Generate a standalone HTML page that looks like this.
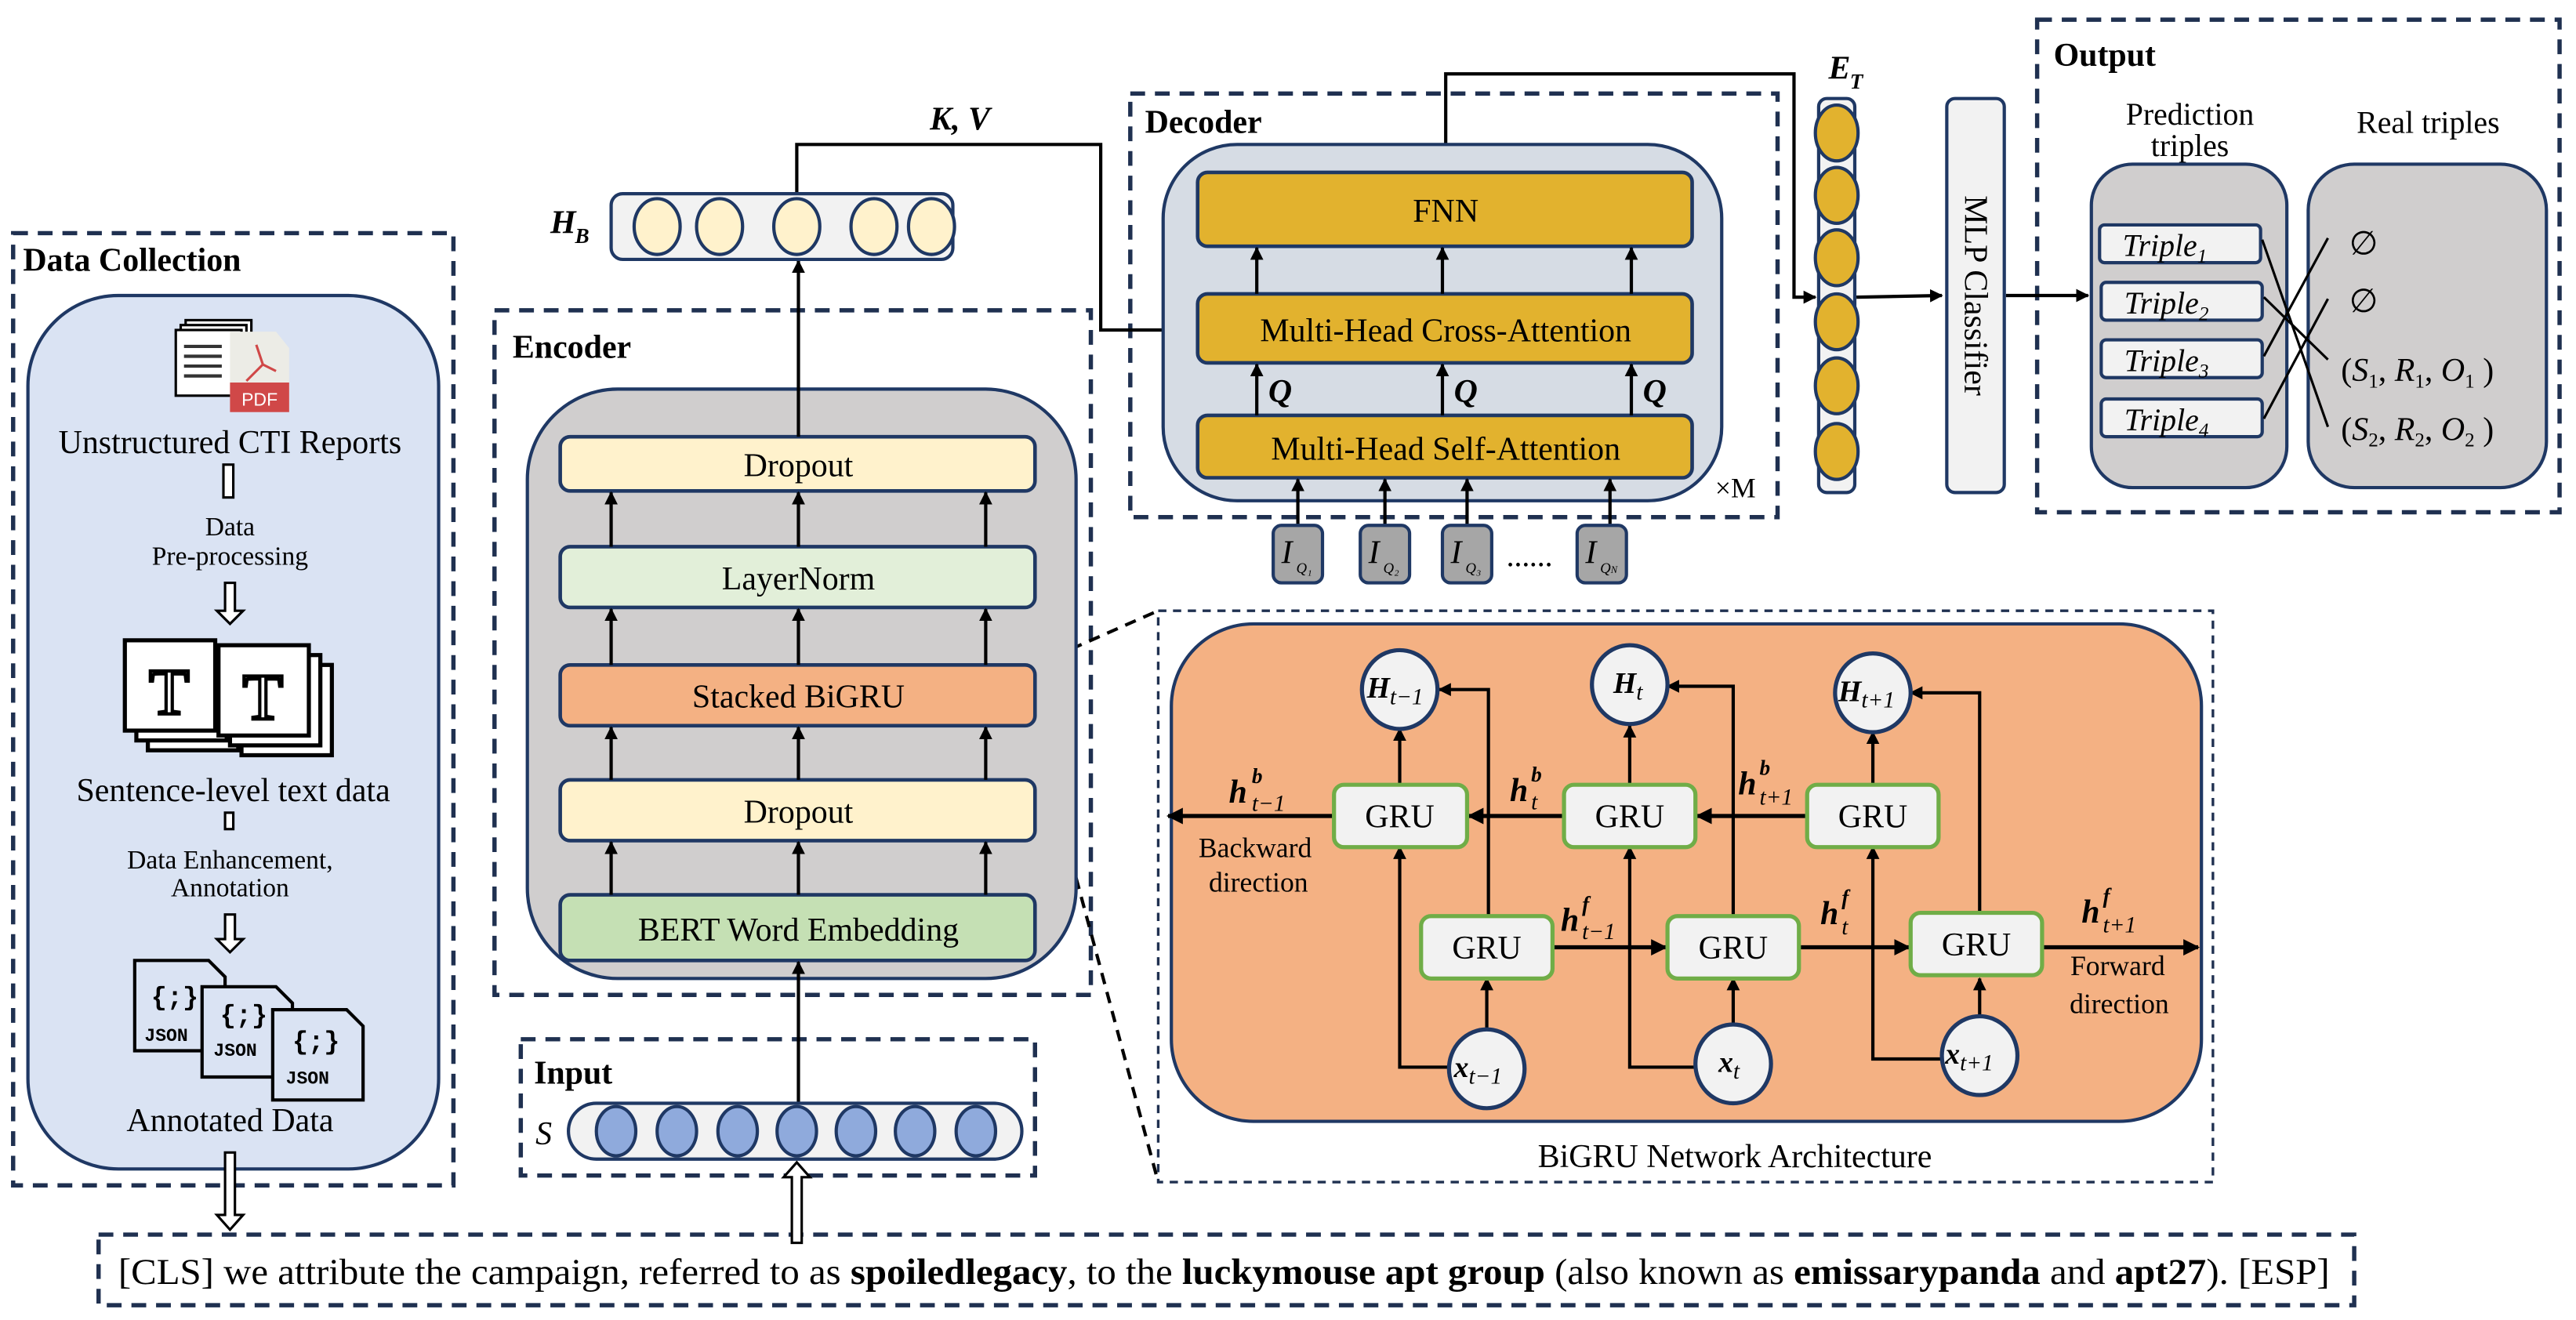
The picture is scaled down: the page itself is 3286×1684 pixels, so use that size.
<!DOCTYPE html>
<html><head><meta charset="utf-8"><style>
html,body{margin:0;padding:0;background:#fff;}
svg{display:block;}
text{font-family:"Liberation Serif","DejaVu Serif",serif;fill:#000;}
.b{font-weight:bold;}
.i{font-style:italic;}
</style></head><body>
<svg width="3286" height="1684" viewBox="0 0 1568 804" preserveAspectRatio="none" xmlns="http://www.w3.org/2000/svg">
<defs>
<marker id="a" viewBox="0 0 10 10" refX="9" refY="5" markerWidth="4" markerHeight="4" orient="auto-start-reverse"><path d="M0,0 L10,5 L0,10 z" fill="#000"/></marker>
</defs>
<g fill="none" stroke="#1f3050" stroke-width="2.6" stroke-dasharray="9,6">
<rect x="8" y="142" width="268" height="580"/>
<rect x="301" y="189" width="363" height="417"/>
<rect x="317" y="633" width="313" height="83"/>
<rect x="688" y="57" width="394" height="258"/>
<rect x="1240" y="12" width="318" height="300"/>
<rect x="60" y="752" width="1373" height="43"/>
</g>
<rect x="705" y="372" width="642" height="348" fill="none" stroke="#1f3050" stroke-width="1.6" stroke-dasharray="5,4"/>
<g stroke="#000" stroke-width="2" stroke-dasharray="7,5"><line x1="630" y1="405" x2="705" y2="372"/><line x1="630" y1="442" x2="705" y2="720"/></g>

<!-- Data collection -->
<text x="14" y="165" class="b" font-size="20">Data Collection</text>
<rect x="17" y="180" width="250" height="532" rx="55" fill="#dae3f3" stroke="#1f3864" stroke-width="2"/>
<g stroke="#000" stroke-width="1.5" fill="#fff">
<rect x="113" y="195" width="40" height="40"/><rect x="110" y="198" width="40" height="40"/><rect x="107" y="201" width="40" height="40"/>
</g>
<g stroke="#333" stroke-width="2"><line x1="112" y1="211" x2="135" y2="211"/><line x1="112" y1="217" x2="135" y2="217"/><line x1="112" y1="223" x2="135" y2="223"/><line x1="112" y1="229" x2="135" y2="229"/></g>
<path d="M140,202 L168,202 L176,212 L176,250 L140,250 z" fill="#ecece6"/>
<rect x="140" y="233" width="36" height="18" fill="#d04848"/>
<text x="158" y="247" font-size="11" text-anchor="middle" style="fill:#fff;font-family:'Liberation Sans',sans-serif">PDF</text>
<path d="M156,210 L160,222 L150,232 M160,222 L168,226" stroke="#d04848" fill="none" stroke-width="1.5"/>
<text x="140" y="276" font-size="20" text-anchor="middle">Unstructured CTI Reports</text>
<rect x="136" y="283" width="6" height="20" fill="#fff" stroke="#000" stroke-width="1.5"/>
<text x="140" y="326" font-size="16" text-anchor="middle">Data</text>
<text x="140" y="344" font-size="16" text-anchor="middle">Pre-processing</text>
<path d="M137,355 h6 v17 h5 l-8,8 l-8,-8 h5 z" fill="#fff" stroke="#000" stroke-width="1.5"/>
<g fill="#fff" stroke="#000" stroke-width="2.5">
<rect x="90" y="402" width="55" height="55"/><rect x="83" y="396" width="55" height="55"/><rect x="76" y="390" width="55" height="55"/>
<rect x="147" y="405" width="55" height="55"/><rect x="140" y="399" width="55" height="55"/><rect x="133" y="393" width="55" height="55"/>
</g>
<text x="103" y="435" font-size="40" text-anchor="middle" style="fill:#fff;stroke:#000;stroke-width:2;font-family:'Liberation Serif',serif">T</text>
<text x="160" y="438" font-size="40" text-anchor="middle" style="fill:#fff;stroke:#000;stroke-width:2;font-family:'Liberation Serif',serif">T</text>
<text x="142" y="488" font-size="20" text-anchor="middle">Sentence-level text data</text>
<rect x="137" y="495" width="5" height="10" fill="#fff" stroke="#000" stroke-width="1.5"/>
<text x="140" y="529" font-size="16" text-anchor="middle">Data Enhancement,</text>
<text x="140" y="546" font-size="16" text-anchor="middle">Annotation</text>
<path d="M137,557 h6 v15 h5 l-8,8 l-8,-8 h5 z" fill="#fff" stroke="#000" stroke-width="1.5"/>
<g fill="#dae3f3" stroke="#000" stroke-width="2">
<path d="M82,585 h45 l10,10 v45 h-55 z"/><path d="M123,607 h45 l10,10 v45 h-55 z" transform="translate(0,-6)"/><path d="M168,610 h45 l10,10 v45 h-55 z" transform="translate(-2,5)"/>
</g>
<g font-size="11" class="b"><text x="88" y="634" style="font-family:'Liberation Mono',monospace">JSON</text><text x="130" y="643" style="font-family:'Liberation Mono',monospace">JSON</text><text x="174" y="660" style="font-family:'Liberation Mono',monospace">JSON</text>
<text x="92" y="612" font-size="16" style="font-family:'Liberation Mono',monospace">{;}</text><text x="134" y="623" font-size="16" style="font-family:'Liberation Mono',monospace">{;}</text><text x="178" y="639" font-size="16" style="font-family:'Liberation Mono',monospace">{;}</text></g>
<text x="140" y="689" font-size="20" text-anchor="middle">Annotated Data</text>
<path d="M137,702 h6 v38 h5 l-8,9 l-8,-9 h5 z" fill="#fff" stroke="#000" stroke-width="1.5"/>

<!-- Encoder -->
<text x="312" y="218" class="b" font-size="20">Encoder</text>
<rect x="321" y="237" width="334" height="359" rx="55" fill="#d0cece" stroke="#1f3864" stroke-width="2"/>
<g stroke="#1f3864" stroke-width="2.2">
<rect x="341" y="266" width="289" height="33" rx="6" fill="#fff2cc"/>
<rect x="341" y="333" width="289" height="37" rx="6" fill="#e2efd9"/>
<rect x="341" y="405" width="289" height="37" rx="6" fill="#f4b183"/>
<rect x="341" y="475" width="289" height="37" rx="6" fill="#fff2cc"/>
<rect x="341" y="545" width="289" height="40" rx="6" fill="#c5e0b4"/>
</g>
<g font-size="20" text-anchor="middle"><text x="486" y="290">Dropout</text><text x="486" y="359">LayerNorm</text><text x="486" y="431">Stacked BiGRU</text><text x="486" y="501">Dropout</text><text x="486" y="573">BERT Word Embedding</text></g>
<g stroke="#000" stroke-width="2" marker-end="url(#a)">
<line x1="372" y1="333" x2="372" y2="300"/><line x1="486" y1="333" x2="486" y2="300"/><line x1="600" y1="333" x2="600" y2="300"/>
<line x1="372" y1="405" x2="372" y2="371"/><line x1="486" y1="405" x2="486" y2="371"/><line x1="600" y1="405" x2="600" y2="371"/>
<line x1="372" y1="475" x2="372" y2="443"/><line x1="486" y1="475" x2="486" y2="443"/><line x1="600" y1="475" x2="600" y2="443"/>
<line x1="372" y1="545" x2="372" y2="513"/><line x1="486" y1="545" x2="486" y2="513"/><line x1="600" y1="545" x2="600" y2="513"/>
<line x1="486" y1="266" x2="486" y2="159"/>
<line x1="486" y1="672" x2="486" y2="586"/>
<polyline points="485,118 485,88 670,88 670,201 718,201" fill="none"/>
<polyline points="880,105 880,45 1092,45 1092,181 1105,181" fill="none"/>
<line x1="1130" y1="181" x2="1182" y2="180"/>
<line x1="1221" y1="180" x2="1271" y2="180"/>
</g>
<text x="335" y="142" class="b i" font-size="20">H</text><text x="350" y="148" class="b i" font-size="13">B</text>
<rect x="372" y="118" width="208" height="40" rx="7" fill="#f2f2f2" stroke="#1f3864" stroke-width="2"/>
<g fill="#fff2cc" stroke="#1f3864" stroke-width="2"><ellipse cx="400" cy="138" rx="14" ry="17"/><ellipse cx="438" cy="138" rx="14" ry="17"/><ellipse cx="485" cy="138" rx="14" ry="17"/><ellipse cx="532" cy="138" rx="14" ry="17"/><ellipse cx="567" cy="138" rx="14" ry="17"/></g>
<text x="566" y="79" class="b i" font-size="20">K, V</text>

<!-- Input -->
<text x="325" y="660" class="b" font-size="20">Input</text>
<text x="326" y="697" class="i" font-size="20">S</text>
<rect x="346" y="672" width="276" height="34" rx="17" fill="#f2f2f2" stroke="#1f3864" stroke-width="2"/>
<g fill="#8faadc" stroke="#1f3864" stroke-width="2"><ellipse cx="375" cy="689" rx="12" ry="15"/><ellipse cx="412" cy="689" rx="12" ry="15"/><ellipse cx="449" cy="689" rx="12" ry="15"/><ellipse cx="485" cy="689" rx="12" ry="15"/><ellipse cx="521" cy="689" rx="12" ry="15"/><ellipse cx="557" cy="689" rx="12" ry="15"/><ellipse cx="594" cy="689" rx="12" ry="15"/></g>
<path d="M482,757 v-40 h-5 l8,-9 l8,9 h-5 v40 z" fill="#fff" stroke="#000" stroke-width="1.5"/>

<!-- Decoder -->
<text x="697" y="81" class="b" font-size="20">Decoder</text>
<rect x="708" y="88" width="340" height="217" rx="45" fill="#d6dce4" stroke="#1f3864" stroke-width="2"/>
<g fill="#e2b22e" stroke="#1f3864" stroke-width="2.2"><rect x="729" y="105" width="301" height="45" rx="6"/><rect x="729" y="179" width="301" height="42" rx="6"/><rect x="729" y="253" width="301" height="38" rx="6"/></g>
<g font-size="20" text-anchor="middle"><text x="880" y="135">FNN</text><text x="880" y="208">Multi-Head Cross-Attention</text><text x="880" y="280">Multi-Head Self-Attention</text></g>
<g stroke="#000" stroke-width="2" marker-end="url(#a)">
<line x1="765" y1="179" x2="765" y2="151"/><line x1="878" y1="179" x2="878" y2="151"/><line x1="993" y1="179" x2="993" y2="151"/>
<line x1="765" y1="253" x2="765" y2="222"/><line x1="878" y1="253" x2="878" y2="222"/><line x1="993" y1="253" x2="993" y2="222"/>
<line x1="790" y1="322" x2="790" y2="292"/><line x1="843" y1="322" x2="843" y2="292"/><line x1="893" y1="322" x2="893" y2="292"/><line x1="980" y1="322" x2="980" y2="292"/>
</g>
<g class="b i" font-size="20"><text x="772" y="245">Q</text><text x="885" y="245">Q</text><text x="1000" y="245">Q</text></g>
<text x="1044" y="303" font-size="17">×M</text>
<g fill="#a6a6a6" stroke="#1f3864" stroke-width="2"><rect x="775" y="320" width="30" height="35" rx="5"/><rect x="828" y="320" width="30" height="35" rx="5"/><rect x="878" y="320" width="30" height="35" rx="5"/><rect x="960" y="320" width="30" height="35" rx="5"/></g>
<g class="i" font-size="20"><text x="780" y="343">I</text><text x="833" y="343">I</text><text x="883" y="343">I</text><text x="965" y="343">I</text></g>
<g class="i" font-size="9"><text x="789" y="349">Q₁</text><text x="842" y="349">Q₂</text><text x="892" y="349">Q₃</text><text x="974" y="349">Q<tspan font-size="6">N</tspan></text></g>
<text x="917" y="345" class="b" font-size="14">……</text>

<!-- E_T and MLP -->
<text x="1113" y="48" class="b i" font-size="20">E</text><text x="1126" y="54" class="b i" font-size="13">T</text>
<rect x="1107" y="60" width="22" height="240" rx="5" fill="#f2f2f2" stroke="#1f3864" stroke-width="2"/>
<g fill="#e2b22e" stroke="#1f3864" stroke-width="2"><ellipse cx="1118" cy="81" rx="13" ry="17"/><ellipse cx="1118" cy="119" rx="13" ry="17"/><ellipse cx="1118" cy="157" rx="13" ry="17"/><ellipse cx="1118" cy="196" rx="13" ry="17"/><ellipse cx="1118" cy="235" rx="13" ry="17"/><ellipse cx="1118" cy="275" rx="13" ry="17"/></g>
<rect x="1185" y="60" width="35" height="240" rx="5" fill="#f2f2f2" stroke="#1f3864" stroke-width="2"/>
<text x="0" y="0" font-size="20" text-anchor="middle" transform="translate(1196,180) rotate(90)">MLP Classifier</text>

<!-- Output -->
<text x="1250" y="40" class="b" font-size="20">Output</text>
<text x="1333" y="76" font-size="19" text-anchor="middle">Prediction</text>
<text x="1333" y="95" font-size="19" text-anchor="middle">triples</text>
<text x="1478" y="81" font-size="19" text-anchor="middle">Real triples</text>
<rect x="1273" y="100" width="119" height="197" rx="25" fill="#d0cece" stroke="#1f3864" stroke-width="2"/>
<rect x="1405" y="100" width="145" height="197" rx="28" fill="#d0cece" stroke="#1f3864" stroke-width="2"/>
<g fill="#f2f2f2" stroke="#1f3864" stroke-width="2"><rect x="1278" y="137" width="98" height="23" rx="3"/><rect x="1279" y="172" width="98" height="23" rx="3"/><rect x="1279" y="207" width="98" height="23" rx="3"/><rect x="1279" y="243" width="98" height="23" rx="3"/></g>
<g class="i" font-size="19"><text x="1292" y="156">Triple<tspan font-size="12" dy="4">1</tspan></text><text x="1293" y="191">Triple<tspan font-size="12" dy="4">2</tspan></text><text x="1293" y="226">Triple<tspan font-size="12" dy="4">3</tspan></text><text x="1293" y="262">Triple<tspan font-size="12" dy="4">4</tspan></text></g>
<g stroke="#000" stroke-width="1.5"><line x1="1377" y1="146" x2="1417" y2="260"/><line x1="1378" y1="181" x2="1417" y2="219"/><line x1="1378" y1="217" x2="1417" y2="145"/><line x1="1378" y1="255" x2="1417" y2="182"/></g>
<text x="1430" y="155" font-size="20">∅</text><text x="1430" y="190" font-size="20">∅</text>
<text x="1425" y="232" font-size="20">(<tspan class="i">S</tspan><tspan font-size="12" dy="4">1</tspan><tspan dy="-4">, </tspan><tspan class="i">R</tspan><tspan font-size="12" dy="4">1</tspan><tspan dy="-4">, </tspan><tspan class="i">O</tspan><tspan font-size="12" dy="4">1</tspan><tspan dy="-4"> )</tspan></text>
<text x="1425" y="268" font-size="20">(<tspan class="i">S</tspan><tspan font-size="12" dy="4">2</tspan><tspan dy="-4">, </tspan><tspan class="i">R</tspan><tspan font-size="12" dy="4">2</tspan><tspan dy="-4">, </tspan><tspan class="i">O</tspan><tspan font-size="12" dy="4">2</tspan><tspan dy="-4"> )</tspan></text>

<!-- BiGRU -->
<rect x="713" y="380" width="627" height="303" rx="50" fill="#f4b183" stroke="#1f3864" stroke-width="2"/>
<g stroke="#000" stroke-width="2" fill="none" marker-end="url(#a)">
<line x1="852" y1="478" x2="852" y2="444"/><line x1="992" y1="478" x2="992" y2="442"/><line x1="1140" y1="478" x2="1140" y2="446"/>
<polyline points="906,558 906,420 876,420"/><polyline points="1055,558 1055,418 1015,418"/><polyline points="1205,558 1205,422 1163,422"/>
<polyline points="884,650 852,650 852,516"/><polyline points="1034,650 992,650 992,516"/><polyline points="1184,645 1140,645 1140,516"/>
<line x1="905" y1="628" x2="905" y2="596"/><line x1="1055" y1="628" x2="1055" y2="596"/><line x1="1205" y1="620" x2="1205" y2="596"/>
<line x1="812" y1="497" x2="711" y2="497" stroke-width="2.5"/><line x1="952" y1="497" x2="894" y2="497" stroke-width="2.5"/><line x1="1100" y1="497" x2="1033" y2="497" stroke-width="2.5"/>
<line x1="945" y1="577" x2="1014" y2="577" stroke-width="2.5"/><line x1="1095" y1="577" x2="1162" y2="577" stroke-width="2.5"/><line x1="1243" y1="577" x2="1338" y2="577" stroke-width="2.5"/>
</g>
<g fill="#f2f2f2" stroke="#70ad47" stroke-width="2.5">
<rect x="812" y="478" width="81" height="38" rx="6"/><rect x="952" y="478" width="80" height="38" rx="6"/><rect x="1100" y="478" width="80" height="38" rx="6"/>
<rect x="865" y="558" width="80" height="38" rx="6"/><rect x="1015" y="558" width="80" height="38" rx="6"/><rect x="1163" y="556" width="80" height="38" rx="6"/>
</g>
<g font-size="20" text-anchor="middle"><text x="852" y="504">GRU</text><text x="992" y="504">GRU</text><text x="1140" y="504">GRU</text><text x="905" y="584">GRU</text><text x="1055" y="584">GRU</text><text x="1203" y="582">GRU</text></g>
<g fill="#f2f2f2" stroke="#1f3864" stroke-width="2.5">
<ellipse cx="852" cy="420" rx="23" ry="24"/><ellipse cx="992" cy="417" rx="23" ry="24"/><ellipse cx="1140" cy="422" rx="23" ry="24"/>
<ellipse cx="905" cy="651" rx="23" ry="24"/><ellipse cx="1055" cy="648" rx="23" ry="24"/><ellipse cx="1205" cy="643" rx="23" ry="24"/>
</g>
<g font-size="18"><text x="832" y="425" class="b i">H<tspan class="i" font-weight="normal" font-size="14" dy="4">t−1</tspan></text>
<text x="982" y="422" class="b i">H<tspan class="i" font-weight="normal" font-size="14" dy="4">t</tspan></text>
<text x="1119" y="427" class="b i">H<tspan class="i" font-weight="normal" font-size="14" dy="4">t+1</tspan></text>
<text x="885" y="656" class="b i">x<tspan class="i" font-weight="normal" font-size="14" dy="4">t−1</tspan></text>
<text x="1046" y="653" class="b i">x<tspan class="i" font-weight="normal" font-size="14" dy="4">t</tspan></text>
<text x="1184" y="648" class="b i">x<tspan class="i" font-weight="normal" font-size="14" dy="4">t+1</tspan></text></g>
<g font-size="20" class="b i">
<text x="748" y="489">h</text><text x="762" y="477" font-size="13">b</text><text x="762" y="494" font-size="14" font-weight="normal">t−1</text>
<text x="919" y="488">h</text><text x="932" y="476" font-size="13">b</text><text x="932" y="493" font-size="14" font-weight="normal">t</text>
<text x="1058" y="484">h</text><text x="1071" y="472" font-size="13">b</text><text x="1071" y="490" font-size="14" font-weight="normal">t+1</text>
<text x="950" y="567">h</text><text x="963" y="555" font-size="13">f</text><text x="963" y="572" font-size="14" font-weight="normal">t−1</text>
<text x="1108" y="563">h</text><text x="1121" y="551" font-size="13">f</text><text x="1121" y="569" font-size="14" font-weight="normal">t</text>
<text x="1267" y="562">h</text><text x="1280" y="550" font-size="13">f</text><text x="1280" y="568" font-size="14" font-weight="normal">t+1</text>
</g>
<g font-size="17" text-anchor="middle"><text x="764" y="522">Backward</text><text x="766" y="543">direction</text><text x="1289" y="594">Forward</text><text x="1290" y="617">direction</text></g>
<text x="1056" y="711" font-size="20" text-anchor="middle">BiGRU Network Architecture</text>

<!-- bottom sentence -->
<text x="72" y="782" font-size="22" textLength="1346" lengthAdjust="spacingAndGlyphs">[CLS] we attribute the campaign, referred to as <tspan class="b">spoiledlegacy</tspan>, to the <tspan class="b">luckymouse apt group</tspan> (also known as <tspan class="b">emissarypanda</tspan> and <tspan class="b">apt27</tspan>). [ESP]</text>
</svg>
</body></html>
